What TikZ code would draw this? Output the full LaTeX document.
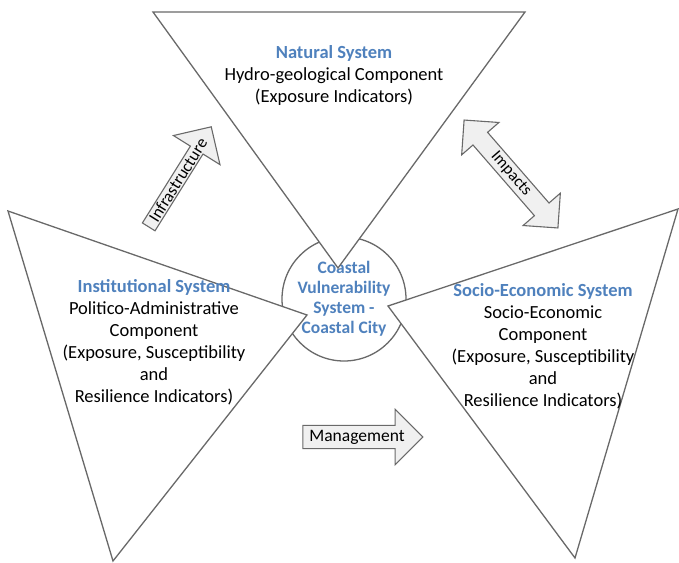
\documentclass[tikz,border=0pt]{standalone}
\usepackage{fontspec}
\setmainfont{Carlito}
\usetikzlibrary{shapes.arrows}
\definecolor{sysblue}{RGB}{79,129,189}
\definecolor{linegray}{RGB}{105,105,105}
\tikzstyle{tri}=[draw=linegray, fill=white, line width=1.3pt, line join=miter]
\tikzstyle{blockarrow}=[draw=linegray, fill=gray!12, line width=1.1pt, inner xsep=2pt]

\begin{document}
\begin{tikzpicture}[x=1pt,y=-1pt,font=\fontsize{18.5}{22}\selectfont]
        \useasboundingbox (0,0) rectangle (679,562);

        \node[draw=linegray,
            circle,
            fill=white,
            line width=1.3pt,
            minimum size=124pt,
            align=center,
            text=sysblue,
            font=\fontsize{17.5}{20}\selectfont\bfseries,
            inner sep=0] (city) at (344,299)
            {Coastal\\Vulnerability\\System -\\Coastal City};

        % Triangles
        \coordinate (nat1) at (153,12);
        \coordinate (nat2) at (525,12);
        \coordinate (nat3) at (338,268);
        \coordinate (ins1) at (8,211);
        \coordinate (ins2) at (307,315);
        \coordinate (ins3) at (113,561);
        \coordinate (soc1) at (388,306);
        \coordinate (soc2) at (678,209);
        \coordinate (soc3) at (575,558);

        \draw[tri] (nat1) -- (nat2) -- (nat3) -- cycle;
        \draw[tri] (ins1) -- (ins2) -- (ins3) -- cycle;
        \draw[tri] (soc1) -- (soc2) -- (soc3) -- cycle;

        \node[align=center] (natural) at (334,75)
            {{\color{sysblue}\bfseries Natural System}\\
            Hydro-geological Component\\(Exposure Indicators)};

        \node[align=center] (institutional) at (154,342)
            {{\color{sysblue}\bfseries Institutional System}\\
            Politico-Administrative\\Component\\
            (Exposure, Susceptibility\\and\\Resilience Indicators)};

        \node[align=center] (socio) at (543,346)
            {{\color{sysblue}\bfseries Socio-Economic System}\\
            Socio-Economic\\Component\\
            (Exposure, Susceptibility\\and\\Resilience Indicators)};

% Arrows
        \node[blockarrow,
            single arrow,
            rotate=58,
            minimum height=118pt,
            single arrow head extend=20pt,
            inner ysep=1pt,
            font=\fontsize{17}{18}\selectfont] (infra) at (178,180) {Infrastructure};

        \node[blockarrow,
            double arrow,
            rotate=-49,
            minimum height=143pt,
            double arrow head extend=15pt,
            inner ysep=2.5pt,
            font=\fontsize{16.5}{18}\selectfont] (impacts) at (511,174) {Impacts};

        \node[blockarrow,
            single arrow,
            minimum height=120pt,
            single arrow head extend=16pt,
            inner ysep=4pt,
            font=\fontsize{17.5}{19}\selectfont] (manage) at (357,437) {Management};

    \end{tikzpicture}
\end{document}
